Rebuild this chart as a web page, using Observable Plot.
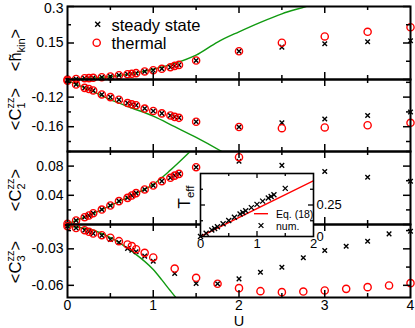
<!DOCTYPE html>
<html><head><meta charset="utf-8">
<script src="https://cdn.jsdelivr.net/npm/d3@7"></script>
<script src="https://cdn.jsdelivr.net/npm/@observablehq/plot@0.6"></script>
<style>
body{margin:0;background:#fff;}
#wrap{position:relative;width:415px;height:328px;overflow:hidden;background:#fff;font-family:"Liberation Sans",Arial,Helvetica,sans-serif;}
#wrap svg{position:absolute;left:0;top:0;}
</style></head><body><div id="wrap"></div>
<script>
// ---------- data ----------
const U = [0, 0.1, 0.2, 0.25, 0.3, 0.4, 0.5, 0.6, 0.7, 0.75, 0.8, 0.9, 1.0, 1.1, 1.2, 1.25, 1.3, 1.5, 2, 2.5, 3, 3.5, 4];
const hkinThermal = [0, 0.002, 0.0053, 0.0057, 0.007, 0.0095, 0.0123, 0.0177, 0.0218, 0.0234, 0.026, 0.033, 0.038, 0.044, 0.0505, 0.056, 0.060, 0.078, 0.116, 0.151, 0.177, 0.196, 0.215];
const hkinSteady  = [0, 0.002, 0.0053, 0.0057, 0.007, 0.0095, 0.0123, 0.0177, 0.0218, 0.0234, 0.026, 0.033, 0.038, 0.044, 0.0505, 0.056, 0.060, 0.078, 0.116, 0.133, 0.147, 0.155, 0.159];
const c1Thermal = [-0.0977, -0.103, -0.1075, -0.109, -0.111, -0.1164, -0.12, -0.1235, -0.128, -0.1297, -0.131, -0.1355, -0.1387, -0.142, -0.1448, -0.1467, -0.148, -0.1533, -0.1604, -0.162, -0.161, -0.158, -0.1547];
const c1Steady  = [-0.0977, -0.103, -0.1075, -0.109, -0.111, -0.1164, -0.12, -0.1235, -0.128, -0.1297, -0.131, -0.1355, -0.1387, -0.142, -0.1448, -0.1467, -0.148, -0.1533, -0.1604, -0.1547, -0.1497, -0.1449, -0.140];
const c2Thermal = [0.001, 0.0055, 0.01, 0.0123, 0.0155, 0.0205, 0.026, 0.032, 0.0365, 0.0397, 0.043, 0.048, 0.0534, 0.0594, 0.064, 0.067, 0.0694, 0.0785, 0.0922, null, null, null, null];
const c2Steady  = [0.001, 0.0055, 0.01, 0.0123, 0.0155, 0.0205, 0.026, 0.032, 0.0365, 0.0397, 0.043, 0.048, 0.0534, 0.0594, 0.064, 0.067, 0.0694, 0.0785, 0.0867, 0.081, 0.0726, 0.0648, 0.0593];

const U3 = [0, 0.1, 0.2, 0.25, 0.3, 0.4, 0.5, 0.6, 0.7, 0.75, 0.8, 0.9, 1.0, 1.25, 1.5, 1.75, 2, 2.25, 2.5, 2.75, 3, 3.25, 3.5, 3.75, 4];
const c3Thermal = [-0.0114, -0.0129, -0.0147, -0.016, -0.0174, -0.0188, -0.0209, -0.0237, -0.0264, -0.0278, -0.0303, -0.0333, -0.0371, -0.0462, -0.0538, -0.0587, -0.0623, -0.0648, -0.0656, -0.0651, -0.0642, -0.0629, -0.0615, -0.0601, -0.0582];
const c3Steady  = [-0.0114, -0.0129, -0.0147, -0.016, -0.0174, -0.019, -0.0223, -0.0248, -0.0297, -0.0311, -0.0324, -0.036, -0.0402, -0.0503, -0.0585, -0.0587, -0.0547, -0.0492, -0.0451, -0.0374, -0.0314, -0.0278, -0.0237, -0.0177, -0.0155];

// green curves (perturbative result)
const g1U = [0, 0.25, 0.5, 0.75, 1.0, 1.25, 1.5, 1.75, 2.0, 2.25, 2.5, 2.78, 3.0];
const g1V = [0, 0.005, 0.012, 0.024, 0.042, 0.066, 0.1, 0.154, 0.196, 0.235, 0.27, 0.3, 0.325];
const g2U = [0, 0.25, 0.5, 0.75, 1.0, 1.25, 1.5, 1.8, 2.0];
const g2V = [-0.0977, -0.110, -0.1235, -0.1347, -0.1457, -0.160, -0.1745, -0.1935, -0.207];
const g3U = [0, 0.25, 0.5, 0.75, 1.0, 1.2, 1.43, 1.6];
const g3V = [0.001, 0.0125, 0.026, 0.040, 0.055, 0.0745, 0.1, 0.12];
const g4U = [0, 0.25, 0.5, 0.75, 1.0, 1.1, 1.2, 1.27, 1.4];
const g4V = [-0.0114, -0.0137, -0.0207, -0.032, -0.047, -0.0555, -0.0645, -0.0705, -0.08];

// inset: effective temperature
const insetU = [0, 0.1, 0.2, 0.25, 0.3, 0.4, 0.5, 0.6, 0.7, 0.75, 0.8, 0.9, 1.0, 1.1, 1.2, 1.25, 1.3, 1.5];
const insetT = [0, 0.026, 0.051, 0.064, 0.077, 0.101, 0.127, 0.153, 0.178, 0.19, 0.204, 0.229, 0.255, 0.281, 0.306, 0.318, 0.331, 0.382];
const eqU = [0, 2];
const eqT = [0, 0.442];

const legendLabels = ["steady state", "thermal"];
const insetLegend = ["Eq. (18)", "num."];

// ---------- drawing ----------
const W = 415, H = 328;
const GREEN = "#109a10";
const FONT = "Liberation Sans, Arial, Helvetica, sans-serif";
const wrap = document.getElementById("wrap");
const pts = (us, vs) => us.map((u, i) => ({u, v: vs[i]})).filter(d => d.v != null);

function panel(cfg) {
  const left = 67, right = 410;
  const pw = right - left, ph = cfg.bottom - cfg.top;
  const [lo, hi] = cfg.domain;
  const inD = d => d.v >= lo - 1e-9 && d.v <= hi + 1e-9;
  const tk = {stroke: "black", strokeWidth: 1.5};
  const marks = [
    Plot.line(cfg.green, {x: "u", y: "v", stroke: GREEN, strokeWidth: 1.4, curve: "monotone-x", clip: true}),
    Plot.dot(cfg.steady, {x: "u", y: "v", symbol: "times", r: 2.2, stroke: "black", strokeWidth: 1.4, filter: inD}),
    Plot.dot(cfg.thermal, {x: "u", y: "v", symbol: "circle", r: 3.6, stroke: "red", fill: "none", strokeWidth: 1.4, filter: inD}),
    Plot.tickY(cfg.yMajor, {y: d => d, insetRight: pw - 7, ...tk}),
    Plot.tickY(cfg.yMajor, {y: d => d, insetLeft: pw - 7, ...tk}),
    Plot.tickY(cfg.yMinor, {y: d => d, insetRight: pw - 4, ...tk}),
    Plot.tickY(cfg.yMinor, {y: d => d, insetLeft: pw - 4, ...tk}),
    Plot.tickX([1, 2, 3], {x: d => d, insetBottom: ph - 7, ...tk}),
    Plot.tickX([1, 2, 3], {x: d => d, insetTop: ph - 7, ...tk}),
    Plot.tickX([0.5, 1.5, 2.5, 3.5], {x: d => d, insetBottom: ph - 4, ...tk}),
    Plot.tickX([0.5, 1.5, 2.5, 3.5], {x: d => d, insetTop: ph - 4, ...tk}),
    Plot.frame({stroke: "black", strokeWidth: 2})
  ];
  for (const [vals, dy] of cfg.yLabels)
    marks.push(Plot.axisY(vals, {tickSize: 0, tickPadding: 4, fontSize: 14, tickFormat: d => String(d), label: null, dy}));
  if (cfg.xAxis) marks.push(Plot.axisX([0, 1, 2, 3, 4], {tickSize: 0, tickPadding: 2.5, fontSize: 14, tickFormat: d => String(d), label: null}));
  const svg = Plot.plot({
    width: W, height: H,
    marginLeft: left, marginRight: W - right, marginTop: cfg.top, marginBottom: H - cfg.bottom,
    x: {domain: [0, 4], axis: cfg.xAxis ? undefined : null},
    y: {domain: cfg.domain},
    style: {background: "transparent", fontFamily: FONT, overflow: "visible"},
    marks
  });
  wrap.appendChild(svg);
  return d3.select(svg);
}

function yLabel(sel, cy, base, sup, sub) {
  const t = sel.append("text")
    .attr("transform", `translate(20.5,${cy}) rotate(-90)`)
    .attr("text-anchor", "middle")
    .style("font-family", FONT).style("font-size", "16.5px").attr("fill", "black");
  t.append("tspan").text(base);
  if (sup) {
    t.append("tspan").attr("font-size", 11).attr("dy", -7).text(sup);
    t.append("tspan").attr("font-size", 11).attr("dx", -11).attr("dy", 11.5).text(sub);
    t.append("tspan").attr("dx", 5).attr("dy", -4.5).text(">");
  } else {
    t.append("tspan").attr("font-size", 11).attr("dy", 4).text(sub);
    t.append("tspan").attr("dy", -4).text(">");
  }
}

const p1 = panel({top: 6, bottom: 79, domain: [0, 0.3], steady: pts(U, hkinSteady), thermal: pts(U, hkinThermal), green: pts(g1U, g1V),
  yMajor: [0, 0.15, 0.3], yMinor: [0.075, 0.225], yLabels: [[[0.15], 0], [[0.3], 2.5]]});
yLabel(p1, 50, "<h\u0303", null, "kin");

const p2 = panel({top: 79, bottom: 151, domain: [-0.1935, -0.0962], steady: pts(U, c1Steady), thermal: pts(U, c1Thermal), green: pts(g2U, g2V),
  yMajor: [-0.12, -0.16], yMinor: [-0.10, -0.14, -0.18], yLabels: [[[-0.12, -0.16], 0]]});
yLabel(p2, 109, "<C", "zz", "1");

const p3 = panel({top: 151, bottom: 224, domain: [0, 0.1], steady: pts(U, c2Steady), thermal: pts(U, c2Thermal), green: pts(g3U, g3V),
  yMajor: [0, 0.04, 0.08], yMinor: [0.02, 0.06, 0.1], yLabels: [[[0.04, 0.08], 0]]});
yLabel(p3, 190, "<C", "zz", "2");

const p4 = panel({top: 224, bottom: 297, domain: [-0.07, -0.01], steady: pts(U3, c3Steady), thermal: pts(U3, c3Thermal), green: pts(g4U, g4V),
  yMajor: [-0.03, -0.06], yMinor: [-0.015, -0.045], yLabels: [[[-0.03, -0.06], 0]], xAxis: true});
yLabel(p4, 262, "<C", "zz", "3");
p4.append("text").attr("x", 239).attr("y", 325.8).attr("text-anchor", "middle")
  .style("font-family", FONT).style("font-size", "14.5px").text("U");

// main legend
const lg = p1.append("g").attr("text-anchor", "start").style("font-family", FONT).style("font-size", "16.5px");
lg.append("path").attr("d", "M95.2,21.8L100.2,26.8M95.2,26.8L100.2,21.8").attr("stroke", "black").attr("stroke-width", 1.4);
lg.append("text").attr("text-anchor", "start").attr("x", 111.5).attr("y", 30.5).text(legendLabels[0]);
lg.append("circle").attr("cx", 96.7).attr("cy", 42.7).attr("r", 3.6).attr("fill", "none").attr("stroke", "red").attr("stroke-width", 1.4);
lg.append("text").attr("text-anchor", "start").attr("x", 111.5).attr("y", 48.5).text(legendLabels[1]);

// inset
{
  const left = 200, right = 313, top = 173, bottom = 236;
  const pw = right - left, ph = bottom - top;
  const tk = {stroke: "black", strokeWidth: 1.3};
  const svg = Plot.plot({
    width: W, height: H,
    marginLeft: left, marginRight: W - right, marginTop: top, marginBottom: H - bottom,
    x: {domain: [0, 2]},
    y: {domain: [0, 0.5]},
    style: {background: "transparent", fontFamily: FONT, overflow: "visible"},
    marks: [
      Plot.frame({fill: "white", stroke: "none"}),
      Plot.line(pts(eqU, eqT), {x: "u", y: "v", stroke: "red", strokeWidth: 1.4, clip: true}),
      Plot.dot(pts(insetU, insetT), {x: "u", y: "v", symbol: "times", r: 2.4, stroke: "black", strokeWidth: 1.3}),
      Plot.tickX([1], {x: d => d, insetBottom: ph - 5, ...tk}),
      Plot.tickX([1], {x: d => d, insetTop: ph - 5, ...tk}),
      Plot.tickX([0.5, 1.5], {x: d => d, insetBottom: ph - 3, ...tk}),
      Plot.tickX([0.5, 1.5], {x: d => d, insetTop: ph - 3, ...tk}),
      Plot.tickY([0.25], {y: d => d, insetRight: pw - 5, ...tk}),
      Plot.tickY([0.25], {y: d => d, insetLeft: pw - 5, ...tk}),
      Plot.tickY([0.125, 0.375], {y: d => d, insetRight: pw - 3, ...tk}),
      Plot.tickY([0.125, 0.375], {y: d => d, insetLeft: pw - 3, ...tk}),
      Plot.frame({stroke: "black", strokeWidth: 1.6}),
      Plot.axisX([0, 1, 2], {tickSize: 0, tickPadding: 2.5, fontSize: 13, tickFormat: d => String(d), label: null}),
      Plot.axisY([0, 0.25], {anchor: "right", tickSize: 0, tickPadding: 3, fontSize: 13, tickFormat: d => String(d), label: null})
    ]
  });
  wrap.appendChild(svg);
  const s = d3.select(svg);
  const t = s.append("text").attr("transform", "translate(190,197) rotate(-90)").attr("text-anchor", "middle")
    .style("font-family", FONT).style("font-size", "17px");
  t.append("tspan").text("T");
  t.append("tspan").attr("font-size", 11.5).attr("dy", 4).text("eff");
  const il = s.append("g").attr("text-anchor", "start").style("font-family", FONT).style("font-size", "10.5px");
  il.append("line").attr("x1", 254).attr("x2", 268).attr("y1", 213.7).attr("y2", 213.7).attr("stroke", "red").attr("stroke-width", 1.4);
  il.append("text").attr("text-anchor", "start").attr("x", 276).attr("y", 217.8).text(insetLegend[0]);
  il.append("path").attr("d", "M258.6,223.1L263.4,227.9M258.6,227.9L263.4,223.1").attr("stroke", "black").attr("stroke-width", 1.3);
  il.append("text").attr("text-anchor", "start").attr("x", 276).attr("y", 229.8).text(insetLegend[1]);
}
</script></body></html>
